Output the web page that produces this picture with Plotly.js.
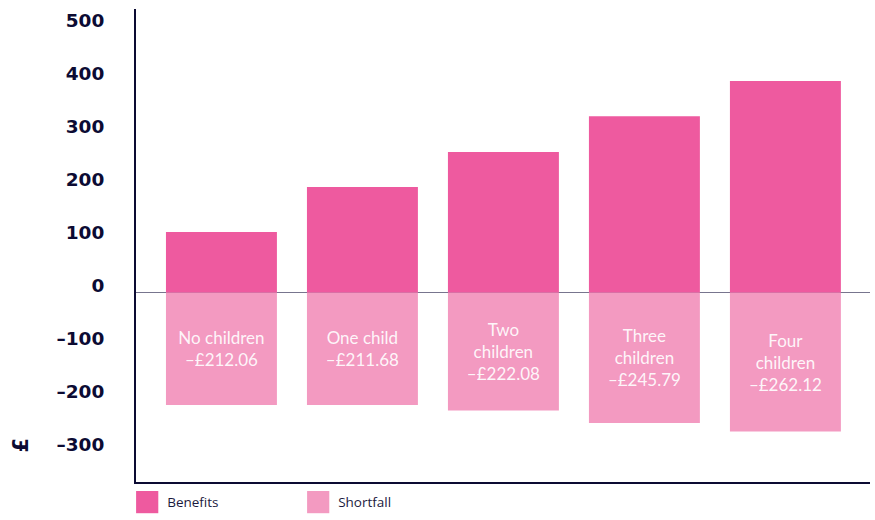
<!DOCTYPE html>
<html>
<head>
<meta charset="utf-8">
<script src="https://cdn.plot.ly/plotly-3.0.1.min.js"></script>
<style>html,body{margin:0;padding:0;background:#fff;}#chart{width:875px;height:520px;}</style>
</head>
<body>
<div id="chart"></div>
<script>
// ---- data ----
const categories = ["No children", "One child", "Two children", "Three children", "Four children"];
const barLabels = ["No children", "One child", "Two<br>children", "Three<br>children", "Four<br>children"];
const benefits = [114.5, 199.5, 265.5, 333, 399.5];
const shortfall = [-212.06, -211.68, -222.08, -245.79, -262.12];
const tickVals = [500, 400, 300, 200, 100, 0, -100, -200, -300];
const tickText = ["500", "400", "300", "200", "100", "0", "–100", "–200", "–300"];
const seriesNames = ["Benefits", "Shortfall"];
const axisTitle = "£";

// ---- styles ----
const benefitColor = "#EE5A9F";
const shortfallColor = "#F39AC1";
const navy = "#0c0b33";

const shortfallText = shortfall.map((v, i) => barLabels[i] + "<br>–£" + Math.abs(v).toFixed(2));

const traces = [
  {
    type: "bar", name: seriesNames[0], x: categories, y: benefits,
    marker: {color: benefitColor}, hoverinfo: "none"
  },
  {
    type: "bar", name: seriesNames[1], x: categories, y: shortfall,
    marker: {color: shortfallColor}, text: shortfallText,
    textposition: "inside", insidetextanchor: "middle", textangle: 0,
    textfont: {family: "Lato, 'Noto Sans', sans-serif", size: 17, color: "rgba(255,255,255,0.92)"},
    hoverinfo: "none"
  }
];

const layout = {
  width: 875, height: 520,
  margin: {l: 136, r: 5, t: 9, b: 38, pad: 0, autoexpand: false},
  paper_bgcolor: "#fff", plot_bgcolor: "#fff",
  barmode: "relative", bargap: 0.213,
  showlegend: true,
  legend: {
    orientation: "h", x: -0.012, xanchor: "left", y: -0.043, yanchor: "middle",
    entrywidth: 126, entrywidthmode: "pixels", traceorder: "normal",
    font: {family: "'Open Sans', sans-serif", size: 13.5, color: "#1b1a40"}
  },
  xaxis: {
    type: "category", range: [-0.606, 4.6], showticklabels: false, ticks: "",
    showgrid: false, zeroline: false,
    showline: true, linecolor: navy, linewidth: 2
  },
  yaxis: {
    range: [-357.2, 535.3], tickvals: tickVals, ticktext: tickText, ticks: "",
    showgrid: false, showline: true, linecolor: navy, linewidth: 2,
    zeroline: true, zerolinecolor: "rgba(20,18,60,0.58)", zerolinewidth: 1.5,
    layer: "above traces",
    ticklabelstandoff: 26, ticklabelshift: -7,
    tickfont: {family: "'DejaVu Sans', sans-serif", size: 18.5, color: navy, weight: 700}
  },
  annotations: [{
    text: axisTitle, xref: "paper", yref: "paper", x: -0.176, y: 0.059,
    showarrow: false, textangle: -90,
    font: {family: "'DejaVu Sans', sans-serif", size: 21, color: navy, weight: 700}
  }]
};

Plotly.newPlot("chart", traces, layout, {displayModeBar: false, staticPlot: true}).then(() => {
  document.querySelectorAll(".legend .legendpoints path").forEach(p => {
    const t = p.getAttribute("transform") || "";
    p.setAttribute("transform", t + " scale(1.85)");
  });
  document.querySelectorAll(".legend .scrollbox").forEach(s => s.removeAttribute("clip-path"));
});
</script>
</body>
</html>
